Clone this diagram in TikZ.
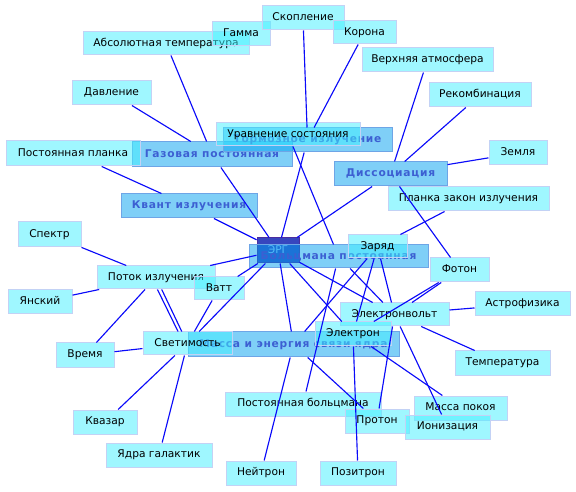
\documentclass[tikz,border=0pt]{standalone}
\usepackage{fontspec}
\setmainfont{DejaVu Sans}
\newfontfamily\catfont[LetterSpace=7]{DejaVu Sans}
\pgfdeclarelayer{bg}
\pgfsetlayers{bg,main}
\definecolor{leaffill}{RGB}{65,241,255}
\definecolor{leafdraw}{RGB}{195,210,245}
\definecolor{catfill}{RGB}{0,160,240}
\definecolor{catdraw}{RGB}{110,165,230}
\definecolor{cattext}{RGB}{60,95,210}
\definecolor{ergfill}{RGB}{55,70,190}
\definecolor{ergdraw}{RGB}{75,45,160}
\definecolor{ergtext}{RGB}{165,215,255}
\definecolor{edgeblue}{RGB}{10,10,250}
\begin{document}
\begin{tikzpicture}[x=0.75pt,y=-0.75pt,
  bw/.style={minimum width=#1*0.75pt},
  bh/.style={minimum height=#1*0.75pt},
  leaf/.style={draw=leafdraw, line width=0.75pt, fill=leaffill, fill opacity=0.5, text opacity=1,
    inner sep=0pt, text height=6pt, text depth=1.9pt, minimum height=18pt,
    font=\fontsize{8}{9.6}\selectfont},
  cat/.style={draw=catdraw, line width=0.75pt, fill=catfill, fill opacity=0.5, text opacity=1,
    text=cattext, inner sep=0pt, text height=6pt, text depth=1.9pt, minimum height=18pt,
    font=\catfont\bfseries\fontsize{8}{9.6}\selectfont},
  ergbox/.style={draw=ergdraw, line width=0.75pt, fill=ergfill, text=ergtext,
    inner sep=0pt, text height=6pt, text depth=1.9pt,
    font=\fontsize{8}{9.6}\selectfont},
  edge/.style={draw=edgeblue, line width=0.85pt}]
\fill[white] (0,0) rectangle (576,492);
\useasboundingbox (0,0) rectangle (576,492);

% centre
\node[ergbox, bw=42, bh=25] (erg) at (278,250.5) {ЭРГ};

% categories
\node[cat, bw=160, bh=25] (gaz) at (212,154.5) {Газовая постоянная};
\node[cat, bw=169, bh=24] (torm) at (307.5,140) {Тормозное излучение};
\node[cat, bw=113, bh=24] (diss) at (390.5,174) {Диссоциация};
\node[cat, bw=136, bh=24] (kvant) at (189,206) {Квант излучения};
\node[cat, bw=179, bh=23] (bolts) at (338.5,256.5) {Больцмана постоянная};
\node[cat, bw=211, bh=25] (mass) at (293.5,344.5) {Масса и энергия связи ядра};

% leaves
\node[leaf, bw=166, bh=23] (abs) at (166,43.5) {Абсолютная температура};
\node[leaf, bw=58, bh=24] (gamma) at (241,34) {Гамма};
\node[leaf, bw=82, bh=24] (skop) at (303,18) {Скопление};
\node[leaf, bw=63, bh=23] (korona) at (364.5,32.5) {Корона};
\node[leaf, bw=131, bh=24] (verkh) at (427.5,60) {Верхняя атмосфера};
\node[leaf, bw=79, bh=24] (davl) at (111.5,93) {Давление};
\node[leaf, bw=102, bh=24] (rekomb) at (480,95) {Рекомбинация};
\node[leaf, bw=144, bh=23] (urav) at (288,134.5) {Уравнение состояния};
\node[leaf, bw=134, bh=25] (pplanck) at (73,153.5) {Постоянная планка};
\node[leaf, bw=58, bh=24] (zemlya) at (518,153) {Земля};
\node[leaf, bw=161, bh=24] (planck) at (468.5,199) {Планка закон излучения};
\node[leaf, bw=63, bh=25] (spektr) at (49.5,234.5) {Спектр};
\node[leaf, bw=59, bh=23] (zaryad) at (377.5,246.5) {Заряд};
\node[leaf, bw=59, bh=24] (foton) at (459.5,270) {Фотон};
\node[leaf, bw=118, bh=23] (potok) at (156,277.5) {Поток излучения};
\node[leaf, bw=50, bh=23] (vatt) at (219,288.5) {Ватт};
\node[leaf, bw=64, bh=24] (yansky) at (40,302) {Янский};
\node[leaf, bw=95, bh=24] (astro) at (522.5,304) {Астрофизика};
\node[leaf, bw=109, bh=23] (ev) at (394.5,314.5) {Электронвольт};
\node[leaf, bw=76, bh=24] (elektron) at (353,334) {Электрон};
\node[leaf, bw=89, bh=23] (svet) at (187.5,343.5) {Светимость};
\node[leaf, bw=58, bh=24] (vremya) at (85,355) {Время};
\node[leaf, bw=95, bh=24] (temp) at (502.5,363) {Температура};
\node[leaf, bw=156, bh=24] (pbolts) at (303,404) {Постоянная больцмана};
\node[leaf, bw=93, bh=24] (massa) at (460.5,408) {Масса покоя};
\node[leaf, bw=64, bh=24] (proton) at (377,421) {Протон};
\node[leaf, bw=85, bh=24] (ioniz) at (447.5,427) {Ионизация};
\node[leaf, bw=64, bh=24] (kvazar) at (105,422) {Квазар};
\node[leaf, bw=106, bh=24] (yadra) at (159,455) {Ядра галактик};
\node[leaf, bw=70, bh=24] (neitron) at (261,473) {Нейтрон};
\node[leaf, bw=76, bh=24] (pozitron) at (358,473) {Позитрон};

% connector that runs beneath the boxes
\begin{pgfonlayer}{bg}
\draw[edge] (gamma) -- (zaryad);
\end{pgfonlayer}

% connectors
\draw[edge] (abs) -- (gaz);
\draw[edge] (davl) -- (gaz);
\draw[edge] (pplanck) -- (kvant);
\draw[edge] (skop) -- (torm);
\draw[edge] (korona) -- (torm);
\draw[edge] (verkh) -- (diss);
\draw[edge] (rekomb) -- (diss);
\draw[edge] (zemlya) -- (diss);
\draw[edge] (diss) -- (erg);
\draw[edge] (gaz) -- (erg);
\draw[edge] (kvant) -- (erg);
\draw[edge] (torm) -- (erg);
\draw[edge] (urav) -- (bolts);
\draw[edge] (planck) -- (zaryad);
\draw[edge] (foton) -- (diss);
\draw[edge] (spektr) -- (potok);
\draw[edge] (yansky) -- (potok);
\draw[edge] (potok) -- (vremya);
\draw[edge] (potok) -- (erg);
\draw[edge] (potok) -- (svet);
\draw[edge] ([xshift=1.1pt]potok.south) -- ([xshift=-7.1pt]svet.north);
\draw[edge] (vatt) -- (erg);
\draw[edge] (vatt) -- (svet);
\draw[edge] (svet) -- (erg);
\draw[edge] (vremya) -- (svet);
\draw[edge] (kvazar) -- (svet);
\draw[edge] (yadra) -- (svet);
\draw[edge] (erg) -- (mass);
\draw[edge] (neitron) -- (mass);
\draw[edge] (proton) -- (mass);
\draw[edge] (pbolts) -- (bolts);
\draw[edge] (zaryad) -- (mass);
\draw[edge] (zaryad) -- (elektron);
\draw[edge] (zaryad) -- (ev);
\draw[edge] (bolts) -- (ev);
\draw[edge] (erg) -- (ev);
\draw[edge] (erg) -- (elektron);
\draw[edge] (foton) -- (ev);
\draw[edge] (foton) -- (elektron);
\draw[edge] (astro) -- (ev);
\draw[edge] (temp) -- (ev);
\draw[edge] (ioniz) -- (ev);
\draw[edge] (proton) -- (ev);
\draw[edge] (massa) -- (elektron);
\draw[edge] (pozitron) -- (elektron);
\end{tikzpicture}
\end{document}
